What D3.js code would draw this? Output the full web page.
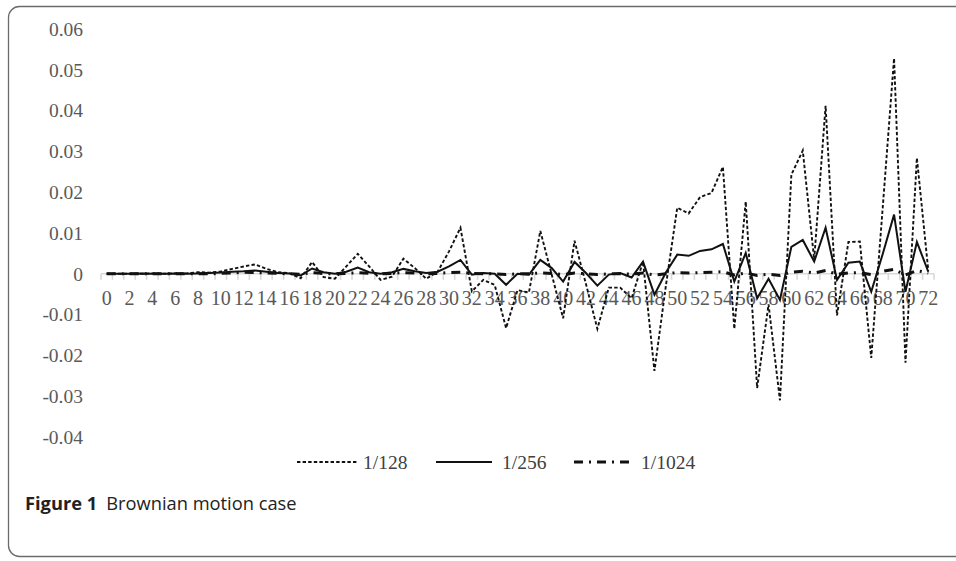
<!DOCTYPE html>
<html>
<head>
<meta charset="utf-8">
<script src="https://cdnjs.cloudflare.com/ajax/libs/d3/7.8.5/d3.min.js"></script>
<style>
  body { margin: 0; background: #fff; }
  svg { display: block; }
</style>
</head>
<body>
<div id="chart"></div>
<script>
// step index 0..72
var steps = d3.range(0, 73);
var seriesNames = ["1/128", "1/256", "1/1024"];
var yTicks = [-0.04, -0.03, -0.02, -0.01, 0, 0.01, 0.02, 0.03, 0.04, 0.05, 0.06];

// values
var s128 = [
  0, 0, 0, 0, 0.0001, 0, 0.0001, 0.0001, 0.0004, 0.0003,
  0.0006, 0.0012, 0.0018, 0.0023, 0.0012, 0.0004, 0.0002, -0.0011, 0.0029, -0.0008,
  -0.0012, 0.0018, 0.0049, 0.0018, -0.0015, -0.0007, 0.0037, 0.0014, -0.0012, 0.0005,
  0.0055, 0.0113, -0.0043, -0.0015, -0.0027, -0.0133, -0.004, -0.0046, 0.0105, -0.0002,
  -0.0109, 0.0081, -0.0025, -0.0135, -0.0034, -0.0034, -0.006, 0.003, -0.0238, -0.003,
  0.0162, 0.0148, 0.0188, 0.0198, 0.0262, -0.0135, 0.0177, -0.028, -0.0075, -0.031,
  0.0243, 0.0302, 0.0035, 0.0412, -0.0102, 0.0078, 0.0079, -0.0206, 0.016, 0.0528,
  -0.0218, 0.0284, 0.0008
];
var s256 = [
  0, 0, 0, 0.0001, 0, 0, 0.0001, 0, 0.0001, 0.0002,
  0.0003, 0.0005, 0.0006, 0.0008, 0.0005, 0.0002, 0.0001, -0.0004, 0.0013, 0.0004,
  0, 0.0005, 0.0015, 0.0004, 0, 0.0004, 0.0012, 0.0006, 0.0002, 0.0005,
  0.0018, 0.0034, -0.0002, 0.0002, 0, -0.0027, 0, -0.0002, 0.0034, 0.0014,
  -0.0019, 0.0029, 0.0002, -0.0029, -0.0002, 0.0002, -0.0009, 0.003, -0.0051, 0.0003,
  0.0047, 0.0044, 0.0056, 0.006, 0.0073, -0.0019, 0.0051, -0.006, -0.0012, -0.0064,
  0.0066, 0.0083, 0.003, 0.0113, -0.0015, 0.0027, 0.003, -0.0044, 0.0048, 0.0145,
  -0.0044, 0.0078, 0.0005
];
var s1024 = [
  0, 0, 0, 0, 0, 0, 0, 0, 0, 0,
  0.0001, 0.0002, 0.0004, 0.0003, 0.0002, 0.0001, 0, -0.0001, 0.0003, 0.0001,
  0, 0.0001, 0.0003, 0.0001, 0, 0.0001, 0.0003, 0.0002, 0, 0.0001,
  0.0003, 0.0004, 0.0001, 0, 0, -0.0002, 0, 0, 0.0002, 0.0001,
  -0.0002, 0.0002, 0, -0.0002, 0, 0, -0.0001, 0.0002, -0.0003, 0,
  0.0003, 0.0002, 0.0003, 0.0004, 0.0005, -0.0003, 0.0002, -0.0004, -0.0001, -0.0004,
  0.0004, 0.0006, 0.0002, 0.0008, -0.0001, 0.0002, 0.0003, -0.0002, 0.0006, 0.0011,
  -0.0003, 0.0008, 0.0002
];

var W = 956, H = 561;
var serif = "Liberation Serif";
var axisGray = "#595959";

var svg = d3.select("#chart").append("svg")
  .attr("width", W).attr("height", H);

// figure frame
svg.append("rect")
  .attr("x", 8.5).attr("y", 6.5)
  .attr("width", 960).attr("height", 550)
  .attr("rx", 11)
  .attr("fill", "none")
  .attr("stroke", "#6b6b6b")
  .attr("stroke-width", 1.3);

var x = d3.scaleBand().domain(steps).range([101, 934]);
var y = d3.scaleLinear().domain([-0.04, 0.06]).range([437, 29]);
var cx = function (i) { return x(i) + x.bandwidth() / 2; };

// y labels (no axis line, Excel style)
svg.append("g")
  .attr("font-family", serif)
  .attr("font-size", 19.5)
  .attr("fill", axisGray)
  .selectAll("text")
  .data(yTicks)
  .enter().append("text")
    .attr("x", 83)
    .attr("y", function (d) { return y(d); })
    .attr("dy", "0.35em")
    .attr("text-anchor", "end")
    .text(function (d) { return d === 0 ? "0" : d3.format(".2f")(d).replace("\u2212", "-"); });

// horizontal category axis on the zero line
var y0 = y(0);
svg.append("line")
  .attr("x1", 101).attr("x2", 934)
  .attr("y1", y0).attr("y2", y0)
  .attr("stroke", "#d9d9d9").attr("stroke-width", 1.6);
svg.append("g").selectAll("line")
  .data(steps.concat([73]))
  .enter().append("line")
    .attr("x1", function (d) { return d < 73 ? x(d) : 934; })
    .attr("x2", function (d) { return d < 73 ? x(d) : 934; })
    .attr("y1", y0).attr("y2", y0 + 6)
    .attr("stroke", "#d9d9d9").attr("stroke-width", 1.6);
svg.append("g")
  .attr("font-family", serif)
  .attr("font-size", 20)
  .attr("fill", axisGray)
  .selectAll("text")
  .data(steps.filter(function (d) { return d % 2 === 0; }))
  .enter().append("text")
    .attr("x", cx)
    .attr("y", y0 + 31)
    .attr("text-anchor", "middle")
    .text(function (d) { return d; });

// series
var styles = [
  { data: s128, dash: "3.4,2.2", width: 1.9 },
  { data: s256, dash: null, width: 2 },
  { data: s1024, dash: "9,6,2,6", width: 3 }
];
var line = d3.line()
  .x(function (d, i) { return cx(i); })
  .y(function (d) { return y(d); });

styles.forEach(function (s) {
  svg.append("path")
    .attr("d", line(s.data))
    .attr("fill", "none")
    .attr("stroke", "#111")
    .attr("stroke-width", s.width)
    .attr("stroke-linejoin", "miter")
    .attr("stroke-dasharray", s.dash);
});

// legend
var legendX = [297, 436, 574];
var legendLen = [60, 56, 56];
var legend = svg.append("g").selectAll("g")
  .data(seriesNames)
  .enter().append("g")
    .attr("transform", function (d, i) { return "translate(" + legendX[i] + ",462)"; });
legend.append("line")
  .attr("x1", 0).attr("x2", function (d, i) { return legendLen[i]; })
  .attr("y1", 0).attr("y2", 0)
  .attr("stroke", "#111")
  .attr("stroke-width", function (d, i) { return styles[i].width; })
  .attr("stroke-dasharray", function (d, i) { return styles[i].dash; });
legend.append("text")
  .attr("x", function (d, i) { return i === 2 ? 67 : 66; })
  .attr("y", 0)
  .attr("dy", "0.35em")
  .attr("font-family", serif)
  .attr("font-size", 19.5)
  .attr("fill", "#404040")
  .text(function (d) { return d; });

// caption
var cap = svg.append("text")
  .attr("x", 25).attr("y", 510)
  .attr("font-family", "Open Sans")
  .attr("font-size", 18.3)
  .attr("fill", "#222");
cap.append("tspan").attr("font-weight", "bold").text("Figure 1");
cap.append("tspan").attr("dx", 9).text("Brownian motion case");
</script>
</body>
</html>
